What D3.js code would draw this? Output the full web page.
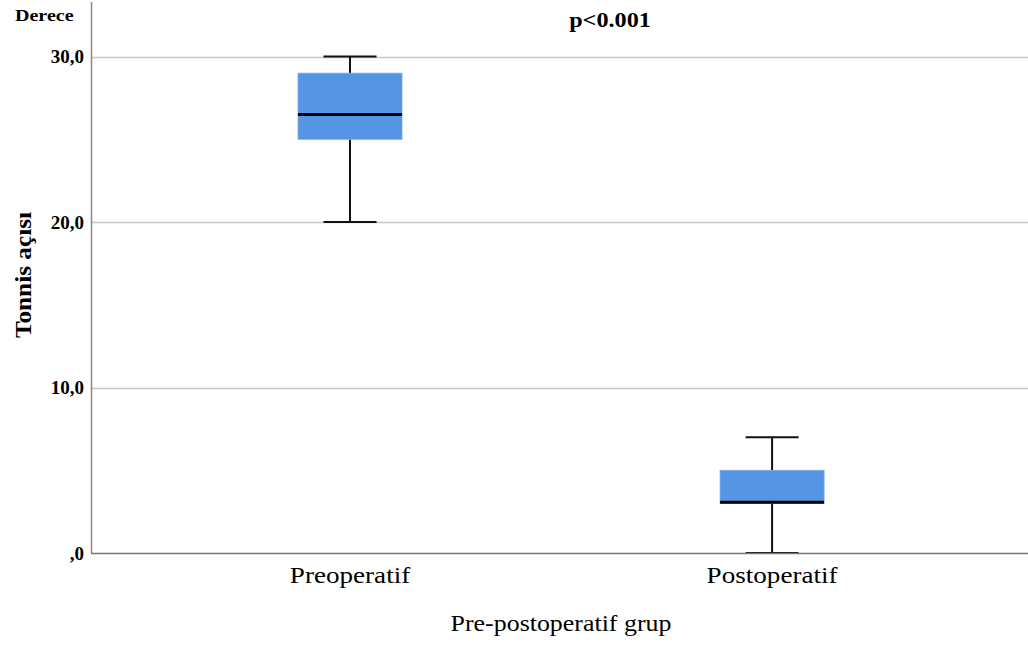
<!DOCTYPE html>
<html>
<head>
<meta charset="utf-8">
<script src="https://cdn.jsdelivr.net/npm/d3@7"></script>
<style>
  body { margin: 0; background: #fff; }
  text { font-family: "Liberation Serif", "DejaVu Serif", serif; fill: #000; }
</style>
</head>
<body>
<svg id="chart" width="1028" height="645"></svg>
<script>
// data
const groups = ["Preoperatif", "Postoperatif"];
const whiskerLow = [20, 0];
const q1 = [25, 3];
const median = [26.5, 3];
const q3 = [29, 5];
const whiskerHigh = [30, 7];
const yTicks = [0, 10, 20, 30];

const svg = d3.select("#chart");

const plotLeft = 91, plotRight = 1028, plotTop = 2, plotBottom = 553;

const y = d3.scaleLinear().domain([0, 33.3]).range([plotBottom, plotTop]);
const x = d3.scalePoint().domain(groups).range([plotLeft, plotRight]).padding(0.61).align(0.503);

const boxW = 104, capW = 53;

// gridlines
svg.append("g")
    .selectAll("line")
    .data(yTicks.filter(d => d > 0))
    .enter().append("line")
    .attr("x1", plotLeft).attr("x2", plotRight)
    .attr("y1", d => Math.round(y(d)) + 0.5)
    .attr("y2", d => Math.round(y(d)) + 0.5)
    .attr("stroke", "#c8c8c8")
    .attr("stroke-width", 1.5);

// tick labels
const fmt = d => d === 0 ? ",0" : d.toFixed(1).replace(".", ",");
svg.append("g")
    .selectAll("text")
    .data(yTicks)
    .enter().append("text")
    .attr("x", plotLeft - 7)
    .attr("y", d => y(d))
    .attr("dy", "0.35em")
    .attr("text-anchor", "end")
    .attr("font-size", 19)
    .attr("font-weight", "bold")
    .text(fmt);

// boxes
const idx = groups.map((g, i) => i);
const box = svg.append("g").selectAll("g").data(idx).enter().append("g");

box.append("line")
    .attr("x1", i => x(groups[i])).attr("x2", i => x(groups[i]))
    .attr("y1", i => y(whiskerHigh[i])).attr("y2", i => y(q3[i]))
    .attr("stroke", "#111").attr("stroke-width", 2);
box.append("line")
    .attr("x1", i => x(groups[i])).attr("x2", i => x(groups[i]))
    .attr("y1", i => y(q1[i])).attr("y2", i => y(whiskerLow[i]))
    .attr("stroke", "#111").attr("stroke-width", 2);
box.append("line")
    .attr("x1", i => x(groups[i]) - capW / 2).attr("x2", i => x(groups[i]) + capW / 2)
    .attr("y1", i => y(whiskerHigh[i])).attr("y2", i => y(whiskerHigh[i]))
    .attr("stroke", "#111").attr("stroke-width", 2);
box.append("line")
    .attr("x1", i => x(groups[i]) - capW / 2).attr("x2", i => x(groups[i]) + capW / 2)
    .attr("y1", i => y(whiskerLow[i])).attr("y2", i => y(whiskerLow[i]))
    .attr("stroke", "#111").attr("stroke-width", 2);
box.append("rect")
    .attr("x", i => x(groups[i]) - boxW / 2)
    .attr("width", boxW)
    .attr("y", i => y(q3[i]))
    .attr("height", i => y(q1[i]) - y(q3[i]))
    .attr("fill", "#5595e3")
    .attr("stroke", "#7aaaf0")
    .attr("stroke-width", 0.8);
box.append("line")
    .attr("x1", i => x(groups[i]) - boxW / 2).attr("x2", i => x(groups[i]) + boxW / 2)
    .attr("y1", i => y(median[i]) - (median[i] === q1[i] ? 1 : 0))
    .attr("y2", i => y(median[i]) - (median[i] === q1[i] ? 1 : 0))
    .attr("stroke", "#000").attr("stroke-width", 3);

// axes lines
svg.append("line")
    .attr("x1", plotLeft + 0.5).attr("x2", plotLeft + 0.5)
    .attr("y1", plotTop).attr("y2", plotBottom)
    .attr("stroke", "#888").attr("stroke-width", 1.5);
svg.append("line")
    .attr("x1", plotLeft).attr("x2", plotRight)
    .attr("y1", plotBottom + 0.5).attr("y2", plotBottom + 0.5)
    .attr("stroke", "#777").attr("stroke-width", 1.5);

// category labels (the source font runs a little wider than Liberation Serif)
svg.append("g")
    .selectAll("text")
    .data(groups)
    .enter().append("text")
    .attr("transform", d => `translate(${x(d)},583) scale(1.13,1)`)
    .attr("text-anchor", "middle")
    .attr("font-size", 24)
    .text(d => d);

svg.append("text")
    .attr("transform", "translate(561,631) scale(1.08,1)")
    .attr("text-anchor", "middle")
    .attr("font-size", 24)
    .text("Pre-postoperatif grup");

svg.append("text")
    .attr("transform", "translate(31,275) rotate(-90) scale(1.1,1)")
    .attr("text-anchor", "middle")
    .attr("font-size", 23)
    .attr("font-weight", "bold")
    .text("Tonnis açısı");

svg.append("text")
    .attr("transform", "translate(15,21) scale(1.18,1)")
    .attr("font-size", 17)
    .attr("font-weight", "bold")
    .text("Derece");

svg.append("text")
    .attr("transform", "translate(610,27) scale(1.1,1)")
    .attr("text-anchor", "middle")
    .attr("font-size", 22)
    .attr("font-weight", "bold")
    .text("p<0.001");
</script>
</body>
</html>
